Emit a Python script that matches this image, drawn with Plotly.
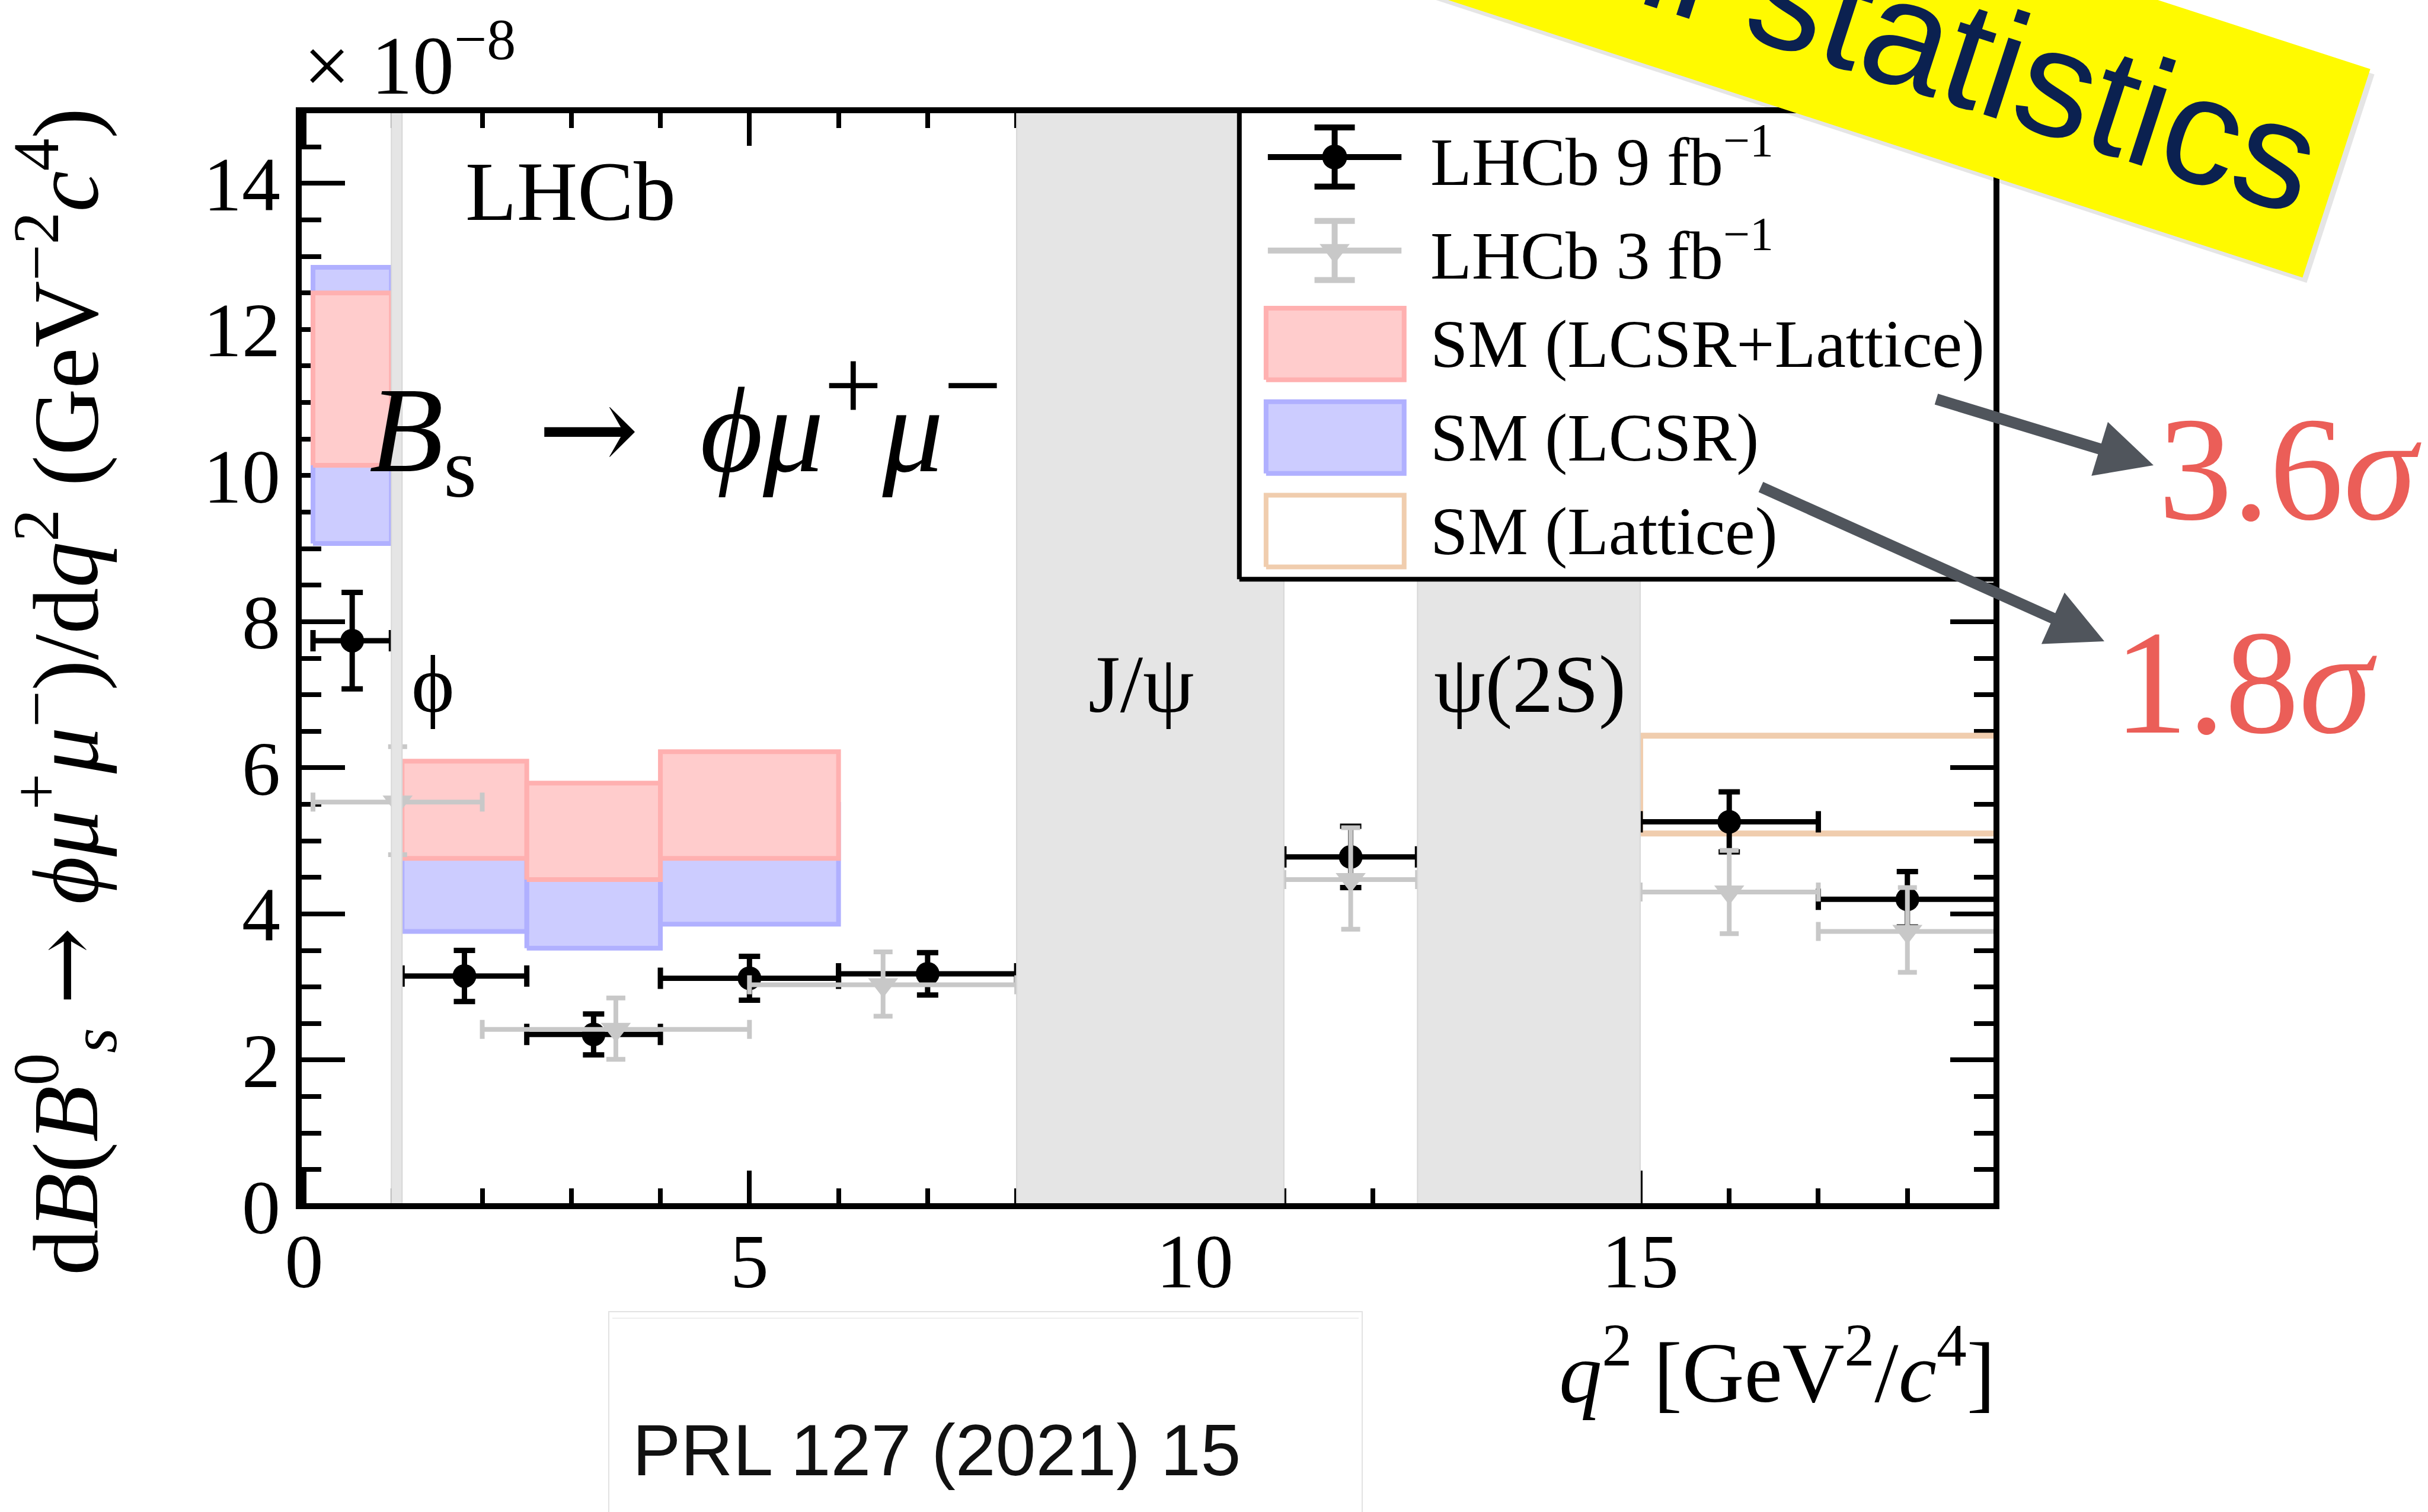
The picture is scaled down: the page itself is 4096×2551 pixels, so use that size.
import plotly.graph_objects as go

# ---------------- data (branching fraction in units of 1e-8 per GeV^2/c^4) ----------------
# LHCb 9 fb^-1
q2_lo_9 = [0.1, 1.1, 2.5, 4.0, 6.0, 11.0, 15.0, 17.0]
q2_hi_9 = [0.98, 2.5, 4.0, 6.0, 8.0, 12.5, 17.0, 19.0]
dbf_9 = [7.74, 3.15, 2.35, 3.12, 3.18, 4.78, 5.26, 4.20]
err_9 = [0.66, 0.35, 0.28, 0.30, 0.29, 0.42, 0.41, 0.38]

# LHCb 3 fb^-1
q2_lo_3 = [0.1, 2.0, 5.0, 11.0, 15.0, 17.0]
q2_hi_3 = [2.0, 5.0, 8.0, 12.5, 17.0, 19.0]
dbf_3 = [5.53, 2.42, 3.03, 4.47, 4.30, 3.76]
err_3_up = [0.76, 0.43, 0.45, 0.71, 0.57, 0.60]
err_3_dn = [0.72, 0.41, 0.43, 0.68, 0.57, 0.56]

# SM predictions
sm_q2_lo = [0.1, 1.1, 2.5, 4.0]
sm_q2_hi = [0.98, 2.5, 4.0, 6.0]
lcsr_lattice_lo = [10.14, 4.76, 4.47, 4.76]
lcsr_lattice_hi = [12.50, 6.09, 5.79, 6.22]
lcsr_lo = [9.07, 3.76, 3.53, 3.86]
lcsr_hi = [12.85, 5.40, 5.20, 5.50]
lattice_q2_lo = [15.0]
lattice_q2_hi = [19.0]
lattice_lo = [5.10]
lattice_hi = [6.44]

# charmonium / phi vetoed regions
veto_lo = [0.98, 8.0, 12.5]
veto_hi = [1.1, 11.0, 15.0]

x_ticks = [0, 5, 10, 15]
y_ticks = [0, 2, 4, 6, 8, 10, 12, 14]

# ---------------- geometry helpers ----------------
W, H = 4096, 2551
PL, PR, PT, PB = 504, 3368, 186, 2035
XR = [-0.06, 19.0]
YR = [0.0, 15.0]


def px(x):
    return (x - PL) / (PR - PL)


def py(y):
    return (PB - y) / (PB - PT)


def boxes(xlo, xhi, ylo, yhi):
    xs, ys = [], []
    for a, b, c, d in zip(xlo, xhi, ylo, yhi):
        xs += [a, b, b, a, a, None]
        ys += [c, c, d, d, c, None]
    return xs, ys


SERIF = "Liberation Serif"
SANS = "Liberation Sans"
BLACK = "#000000"
GREY = "#c8c8c8"
PINK_F, PINK_L = "#ffcccc", "#ffb0b0"
BLUE_F, BLUE_L = "#ccccff", "#b0b0ff"
ORANGE_L = "#f0cdae"
VETO = "#e5e5e5"

fig = go.Figure()

# SM bands
bx, by = boxes(sm_q2_lo, sm_q2_hi, lcsr_lo, lcsr_hi)
fig.add_trace(go.Scatter(x=bx, y=by, mode="lines", fill="toself", fillcolor=BLUE_F,
                         line=dict(color=BLUE_L, width=8), hoverinfo="skip", showlegend=False))
bx, by = boxes(sm_q2_lo, sm_q2_hi, lcsr_lattice_lo, lcsr_lattice_hi)
fig.add_trace(go.Scatter(x=bx, y=by, mode="lines", fill="toself", fillcolor=PINK_F,
                         line=dict(color=PINK_L, width=8), hoverinfo="skip", showlegend=False))
bx, by = boxes(lattice_q2_lo, lattice_q2_hi, lattice_lo, lattice_hi)
fig.add_trace(go.Scatter(x=bx, y=by, mode="lines",
                         line=dict(color=ORANGE_L, width=10), hoverinfo="skip", showlegend=False))

# measurements
xc9 = [(a + b) / 2 for a, b in zip(q2_lo_9, q2_hi_9)]
xw9 = [(b - a) / 2 for a, b in zip(q2_lo_9, q2_hi_9)]
fig.add_trace(go.Scatter(
    x=xc9, y=dbf_9, mode="markers",
    marker=dict(symbol="circle", size=40, color=BLACK),
    error_x=dict(type="data", array=xw9, symmetric=True, color=BLACK, thickness=9, width=18),
    error_y=dict(type="data", array=err_9, symmetric=True, color=BLACK, thickness=9, width=18),
    showlegend=False))

xc3 = [(a + b) / 2 for a, b in zip(q2_lo_3, q2_hi_3)]
xw3 = [(b - a) / 2 for a, b in zip(q2_lo_3, q2_hi_3)]
fig.add_trace(go.Scatter(
    x=xc3, y=dbf_3, mode="markers",
    marker=dict(symbol="triangle-down", size=44, color=GREY),
    error_x=dict(type="data", array=xw3, symmetric=True, color=GREY, thickness=8, width=16),
    error_y=dict(type="data", array=err_3_up, arrayminus=err_3_dn, symmetric=False,
                 color=GREY, thickness=8, width=16),
    showlegend=False))

# vetoed regions
bx, by = boxes(veto_lo, veto_hi, [YR[0]] * 3, [YR[1]] * 3)
fig.add_trace(go.Scatter(x=bx, y=by, mode="lines", fill="toself", fillcolor=VETO,
                         line=dict(color="#d8d8d8", width=2), hoverinfo="skip", showlegend=False))

# ---------------- legend (drawn inside the frame) ----------------
LEG_X0, LEG_X1, LEG_Y0, LEG_Y1 = 10.5, 19.0, 8.58, 15.0
leg_rows = [14.36, 13.08, 11.80, 10.52, 9.24]
sym_x = 11.57
sw_x0, sw_x1, sw_h = 10.80, 12.35, 0.49
txt_x = 12.63

bx, by = boxes([LEG_X0], [LEG_X1], [LEG_Y0], [LEG_Y1])
fig.add_trace(go.Scatter(x=bx, y=by, mode="lines", fill="toself", fillcolor="white",
                         line=dict(color=BLACK, width=8), hoverinfo="skip", showlegend=False))
fig.add_trace(go.Scatter(
    x=[sym_x], y=[leg_rows[0]], mode="markers",
    marker=dict(symbol="circle", size=42, color=BLACK),
    error_x=dict(type="data", array=[0.75], color=BLACK, thickness=10, width=0),
    error_y=dict(type="data", array=[0.405], color=BLACK, thickness=10, width=34),
    showlegend=False))
fig.add_trace(go.Scatter(
    x=[sym_x], y=[leg_rows[1]], mode="markers",
    marker=dict(symbol="triangle-down", size=44, color=GREY),
    error_x=dict(type="data", array=[0.75], color=GREY, thickness=10, width=0),
    error_y=dict(type="data", array=[0.405], color=GREY, thickness=10, width=34),
    showlegend=False))
for row, fc, lc in [(leg_rows[2], PINK_F, PINK_L), (leg_rows[3], BLUE_F, BLUE_L),
                    (leg_rows[4], "white", ORANGE_L)]:
    bx, by = boxes([sw_x0], [sw_x1], [row - sw_h], [row + sw_h])
    fig.add_trace(go.Scatter(x=bx, y=by, mode="lines", fill="toself", fillcolor=fc,
                             line=dict(color=lc, width=8), hoverinfo="skip", showlegend=False))

leg_labels = ["LHCb 9 fb<sup>−1</sup>", "LHCb 3 fb<sup>−1</sup>", "SM (LCSR+Lattice)",
              "SM (LCSR)", "SM (Lattice)"]

annotations = []
for row, lab in zip(leg_rows, leg_labels):
    annotations.append(dict(x=txt_x, y=row, xref="x", yref="y", text=lab, showarrow=False,
                            xanchor="left", yanchor="middle",
                            font=dict(family=SERIF, size=114, color=BLACK)))

ARROW_SPAN = '<span style="font-family:DejaVu Serif">→</span>'
SP = "\u2002"


def big_sup(s, size):
    return '<sup><span style="font-size:%dpx">%s</span></sup>' % (size, s)


# labels inside the frame
annotations += [
    dict(x=1.80, y=13.89, xref="x", yref="y", text="LHCb", showarrow=False,
         xanchor="left", yanchor="middle", font=dict(family=SERIF, size=142, color=BLACK)),
    dict(x=0.72, y=10.74, xref="x", yref="y",
         text=("<i>B</i><sub>s</sub>" + SP + ARROW_SPAN + SP +
               "<i>ϕμ</i>" + big_sup("+", 175) + "<i>μ</i>" + big_sup("−", 175)),
         showarrow=False, xanchor="left", yanchor="middle",
         font=dict(family=SERIF, size=205, color=BLACK)),
    dict(x=1.45, y=7.14, xref="x", yref="y", text="ϕ", showarrow=False,
         xanchor="center", yanchor="middle", font=dict(family=SERIF, size=138, color=BLACK)),
    dict(x=9.40, y=7.14, xref="x", yref="y", text="J/ψ", showarrow=False,
         xanchor="center", yanchor="middle", font=dict(family=SERIF, size=138, color=BLACK)),
    dict(x=13.76, y=7.14, xref="x", yref="y", text="ψ(2S)", showarrow=False,
         xanchor="center", yanchor="middle", font=dict(family=SERIF, size=138, color=BLACK)),
]

# axis titles and exponent
annotations += [
    dict(x=px(510), y=py(100), xref="paper", yref="paper", text="× 10<sup>−8</sup>",
         showarrow=False, xanchor="left", yanchor="middle",
         font=dict(family=SERIF, size=140, color=BLACK)),
    dict(x=px(110), y=py(180), xref="paper", yref="paper", textangle=-90,
         text=("d<i>B</i>(<i>B</i><sup>0</sup><sub><i>s</i></sub> " + ARROW_SPAN +
               " <i>ϕμ</i><sup>+</sup><i>μ</i><sup>−</sup>)/d<i>q</i><sup>2</sup>"
               " (GeV<sup>−2</sup><i>c</i><sup>4</sup>)"),
         showarrow=False, xanchor="center", yanchor="top",
         font=dict(family=SERIF, size=156, color=BLACK)),
    dict(x=1.0, y=py(2305), xref="paper", yref="paper",
         text="<i>q</i><sup>2</sup> [GeV<sup>2</sup>/<i>c</i><sup>4</sup>]",
         showarrow=False, xanchor="right", yanchor="middle",
         font=dict(family=SERIF, size=145, color=BLACK)),
    dict(x=px(1065), y=py(2447), xref="paper", yref="paper", text="PRL 127 (2021) 15",
         showarrow=False, xanchor="left", yanchor="middle",
         font=dict(family=SANS, size=122, color="#111111")),
]

# significance call-outs
SIG_RED = "#eb5e58"
ARROW = "#50555c"
annotations += [
    dict(x=px(3639), y=py(791), xref="paper", yref="paper", text="3.6<i>σ</i>",
         showarrow=False, xanchor="left", yanchor="middle",
         font=dict(family=SERIF, size=250, color=SIG_RED)),
    dict(x=px(3564), y=py(1151), xref="paper", yref="paper", text="1.8<i>σ</i>",
         showarrow=False, xanchor="left", yanchor="middle",
         font=dict(family=SERIF, size=250, color=SIG_RED)),
    dict(x=px(3633), y=py(785), xref="paper", yref="paper", text="", showarrow=True,
         ax=-368, ay=-112, axref="pixel", ayref="pixel", arrowhead=2, arrowsize=1.0,
         arrowwidth=19, arrowcolor=ARROW, standoff=0),
    dict(x=px(3550), y=py(1082), xref="paper", yref="paper", text="", showarrow=True,
         ax=-581, ay=-261, axref="pixel", ayref="pixel", arrowhead=2, arrowsize=1.0,
         arrowwidth=19, arrowcolor=ARROW, standoff=0),
]

# slanted banner
annotations += [
    dict(x=px(3200), y=py(52), xref="paper", yref="paper", text="Full statistics",
         showarrow=False, xanchor="center", yanchor="middle", textangle=18,
         xshift=7, yshift=-9, bgcolor="rgba(0,0,0,0.10)", borderpad=40,
         font=dict(family=SANS, size=258, color="rgba(0,0,0,0)")),
    dict(x=px(3200), y=py(52), xref="paper", yref="paper", text="Full statistics",
         showarrow=False, xanchor="center", yanchor="middle", textangle=18,
         bgcolor="#fffa00", borderpad=40,
         font=dict(family=SANS, size=258, color="#0b2150")),
]

shapes = [
    # frame
    dict(type="rect", xref="paper", yref="paper", x0=0, x1=1, y0=0, y1=1,
         line=dict(color=BLACK, width=10), layer="above"),
    # reference box
    dict(type="rect", xref="paper", yref="paper", x0=px(1027), x1=px(2298),
         y0=py(2600), y1=py(2213), line=dict(color="#e2e2e2", width=2),
         fillcolor="rgba(0,0,0,0)", layer="above"),
    dict(type="line", xref="paper", yref="paper", x0=px(1033), x1=px(2292),
         y0=py(2224), y1=py(2224), line=dict(color="#eeeeee", width=2), layer="above"),
]

fig.update_layout(
    width=W, height=H,
    margin=dict(l=PL, r=W - PR, t=PT, b=H - PB, pad=0),
    paper_bgcolor="white", plot_bgcolor="white",
    showlegend=False,
    annotations=annotations,
    shapes=shapes,
    xaxis=dict(range=XR, showgrid=False, zeroline=False, showline=False,
               tickmode="array", tickvals=x_ticks, ticktext=[str(v) for v in x_ticks],
               ticks="inside", ticklen=60, tickwidth=8, tickcolor=BLACK, mirror="ticks",
               minor=dict(dtick=1, tick0=0, ticks="inside", ticklen=30, tickwidth=8,
                          tickcolor=BLACK, showgrid=False),
               tickfont=dict(family=SERIF, size=130, color=BLACK),
               ticklabelstandoff=6, layer="below traces"),
    yaxis=dict(range=YR, showgrid=False, zeroline=False, showline=False,
               tickmode="array", tickvals=y_ticks, ticktext=[str(v) for v in y_ticks],
               ticks="inside", ticklen=78, tickwidth=8, tickcolor=BLACK, mirror="ticks",
               minor=dict(dtick=0.5, tick0=0, ticks="inside", ticklen=38, tickwidth=8,
                          tickcolor=BLACK, showgrid=False),
               tickfont=dict(family=SERIF, size=130, color=BLACK),
               ticklabelstandoff=30, layer="below traces"),
)

fig.write_html("out.html", config={"displayModeBar": False})
